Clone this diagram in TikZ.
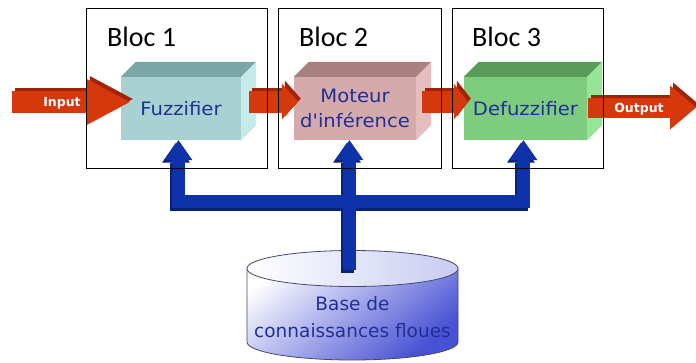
\documentclass[tikz,border=0pt]{standalone}
\usepackage{fontspec}
\setmainfont{Carlito}
\newfontfamily\roundfont{DejaVu Sans}
\newfontfamily\widefont[FakeStretch=1.06]{DejaVu Sans}
\usetikzlibrary{arrows.meta,calc}

\definecolor{fuzzfront}{RGB}{168,210,210}
\definecolor{fuzztop}{RGB}{122,166,166}
\definecolor{fuzzside}{RGB}{196,234,234}
\definecolor{motfront}{RGB}{212,170,170}
\definecolor{mottop}{RGB}{168,128,128}
\definecolor{motside}{RGB}{228,190,190}
\definecolor{deffront}{RGB}{126,204,126}
\definecolor{deftop}{RGB}{88,156,88}
\definecolor{defside}{RGB}{152,228,152}
\definecolor{arrred}{RGB}{214,56,14}
\definecolor{arrdark}{RGB}{160,36,10}
\definecolor{kbblue}{RGB}{14,50,170}
\definecolor{kbdark}{RGB}{8,34,124}
\definecolor{kbfill}{RGB}{72,82,212}
\definecolor{kbline}{RGB}{70,70,110}
\definecolor{txtblue}{RGB}{34,48,150}

% extruded top and right faces of a front-face node
\newcommand\cuboid[3]{%
  \fill[#2] (#1.north west) -- ++(15,-15) -- ($(#1.north east)+(15,-15)$) -- (#1.north east) -- cycle;
  \fill[#3] (#1.north east) -- ++(15,-15) -- ($(#1.south east)+(15,-15)$) -- (#1.south east) -- cycle;
}

% red flow arrows between the stages
\newcommand\flowarrows[1]{%
  \draw[#1,line width=22pt,-{Triangle[length=43pt,width=46pt,line width=0pt]}]
    (inS) -- ($(inS -| fuzz.west)+(9,0)$);
  \draw[#1,line width=22pt,-{Triangle[length=16pt,width=36pt,line width=0pt]}]
    ($(fuzz.east)+(8,-7)$) -- ($(moteur.west)+(4,-7)$);
  \draw[#1,line width=22pt,-{Triangle[length=14pt,width=36pt,line width=0pt]}]
    ($(moteur.east)+(6,-7)$) -- ($(defuzz.west)+(4,-7)$);
  \draw[#1,line width=20pt,-{Triangle[length=26pt,width=44pt,line width=0pt]}]
    ($(defuzz.east)+(1,-1)$) -- (outE);
}

% blue knowledge-base distribution tree
\newcommand\kbtree[1]{%
  \draw[#1,line width=13pt,line cap=rect] (busL) -- (busR);
  \draw[#1,kbup] (busL) -- (busL |- fuzz.south);
  \draw[#1,kbup] (busR) -- (busR |- defuzz.south);
  \draw[#1,kbup] (kbtop) -- (kbtop |- moteur.south);
}

\begin{document}
\begin{tikzpicture}[x=1pt,y=-1pt,
  stage/.style={minimum height=63pt,inner sep=0pt,text=txtblue,align=center,
    font=\widefont\fontsize{18.5}{25}\selectfont},
  blocframe/.style={draw=black,line width=0.9pt,minimum height=160pt,inner sep=0pt},
  bloclabel/.style={anchor=base west,inner sep=0pt,font=\fontsize{28}{30}\selectfont},
  kbup/.style={line width=13pt,-{Triangle[length=20pt,width=28pt,line width=0pt]}},
  arrowlabel/.style={text=white,inner sep=0pt,font=\roundfont\bfseries\fontsize{12.5}{14}\selectfont}]

\useasboundingbox (0,0) rectangle (696,362);
\fill[white] (0,0) rectangle (696,362);

% knowledge base cylinder
\shade[top color=white,bottom color=kbfill,shading angle=40] (247,268.5) -- (247,342)
  arc[start angle=180,end angle=360,x radius=105.5pt,y radius=18pt]
  -- (458,268.5) arc[start angle=0,end angle=180,x radius=105.5pt,y radius=18pt] -- cycle;
\draw[kbline,line width=0.8pt] (247,268.5) -- (247,342)
  arc[start angle=180,end angle=360,x radius=105.5pt,y radius=18pt] -- (458,268.5);
\shade[left color=white,right color={rgb,255:red,200;green,204;blue,242},draw=kbline,line width=0.8pt]
  (352.5,268.5) ellipse[x radius=105.5pt,y radius=18pt];
\node[text=txtblue,align=center,inner sep=0pt,font=\roundfont\fontsize{18.5}{27}\selectfont]
  (kb) at (352.5,317) {Base de\\connaissances floues};

% stage boxes (front faces)
\node[stage,fill=fuzzfront,minimum width=120pt] (fuzz) at (181,108.5) {Fuzzifier};
\node[stage,fill=motfront,minimum width=122pt] (moteur) at (355,108.5) {Moteur\\d'inférence};
\node[stage,fill=deffront,minimum width=123pt] (defuzz) at (525.5,108.5) {Defuzzifier};

% tree joints
\coordinate (busL) at (178.5,201.5);
\coordinate (busR) at (523.5,201.5);
\coordinate (kbtop) at (349.5,270);

\begin{scope}[transform canvas={shift={(-2.5pt,-2.5pt)}}]
  \kbtree{kbdark}
\end{scope}
\kbtree{kbblue}

% redraw boxes over the tips
\node[stage,fill=fuzzfront,minimum width=120pt] at (fuzz) {Fuzzifier};
\node[stage,fill=motfront,minimum width=122pt] at (moteur) {Moteur\\d'inférence};
\node[stage,fill=deffront,minimum width=123pt] at (defuzz) {Defuzzifier};
\cuboid{fuzz}{fuzztop}{fuzzside}
\cuboid{moteur}{mottop}{motside}
\cuboid{defuzz}{deftop}{defside}

% flow arrows
\coordinate (inS) at (12,102);
\coordinate (outE) at (696,107.5);
\begin{scope}[transform canvas={shift={(3pt,3pt)}}]
  \flowarrows{arrdark}
\end{scope}
\flowarrows{arrred}
\node[arrowlabel] (inlbl) at (62,103) {Input};
\node[arrowlabel] (outlbl) at (639,109) {Output};

% block frames
\node[blocframe,minimum width=181pt] (bloc1) at (176.5,88) {};
\node[blocframe,minimum width=163pt] (bloc2) at (359.5,88) {};
\node[blocframe,minimum width=151pt] (bloc3) at (527.5,88) {};
\node[bloclabel] (lbl1) at (107,46) {Bloc 1};
\node[bloclabel] (lbl2) at (299,46) {Bloc 2};
\node[bloclabel] (lbl3) at (472,46) {Bloc 3};

\end{tikzpicture}
\end{document}
